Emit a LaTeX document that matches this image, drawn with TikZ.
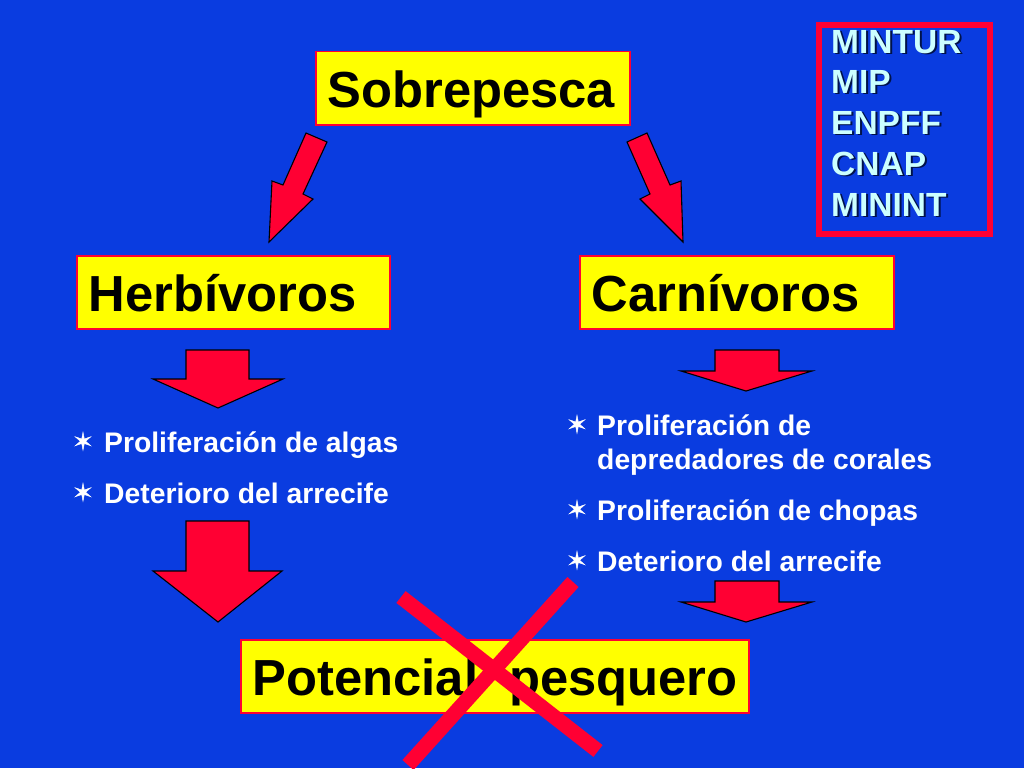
\documentclass[tikz,border=0pt]{standalone}
\usepackage{fontspec}
\setmainfont{Liberation Sans}
\newfontfamily\starfont[FakeBold=1.8]{DejaVu Sans}
\usepackage{xcolor}
\definecolor{bgblue}{HTML}{0A3CE0}
\definecolor{boxyellow}{HTML}{FFFF00}
\definecolor{arrowred}{HTML}{FF0033}
\definecolor{paleblue}{HTML}{CCFFFF}
\definecolor{shadowblue}{HTML}{00124A}

\tikzset{
  titlebox/.style={draw=arrowred,line width=1.5pt,fill=boxyellow,anchor=north west,inner ysep=0pt,inner xsep=12pt,
    text height=56pt,text depth=17pt,font=\bfseries\fontsize{50.7}{56}\selectfont,align=left},
  blockarrow/.style={draw=black,line width=1.1pt,fill=arrowred,line join=miter},
  crossbar/.style={draw=arrowred,line width=15pt},
  itemtext/.style={anchor=base west,inner sep=0pt,text=white,font=\bfseries\fontsize{28.3}{34}\selectfont,align=left},
  itemstar/.style={anchor=base,inner sep=0pt,text=white,font=\starfont\fontsize{24}{24}\selectfont},
  agencytext/.style={anchor=base west,inner sep=0pt,text=paleblue,font=\bfseries\fontsize{33.5}{40}\selectfont},
  agencyshadow/.style={anchor=base west,inner sep=0pt,text=shadowblue,font=\bfseries\fontsize{33.5}{40}\selectfont}
}

\newcommand{\agency}[3]{%
  \node[agencyshadow] (#1s) at (833,#2+1.5) {#3};
  \node[agencytext] (#1) at (831,#2) {#3};
}

\begin{document}
\begin{tikzpicture}[x=1pt,y=-1pt]
\fill[bgblue] (0,0) rectangle (1024,768);
\useasboundingbox (0,0) rectangle (1024,768);

% agencies
\draw[arrowred,line width=6pt] (819,25) rectangle (990,234);
\agency{mintur}{53}{MINTUR}
\agency{mip}{93}{MIP}
\agency{enpff}{134}{ENPFF}
\agency{cnap}{175}{CNAP}
\agency{minint}{216}{MININT}

% boxes
\node[titlebox,text width=290pt] (sobrepesca) at (315,51) {Sobrepesca};
\node[titlebox,text width=289pt] (herbivoros) at (76,255) {Herbívoros};
\node[titlebox,text width=290pt] (carnivoros) at (579,255) {Carnívoros};
\node[titlebox,text width=484pt] (potencial) at (240,639) {\mbox{Potencial\hspace{31pt}pesquero}};

% arrows
\draw[blockarrow] (306,133) -- (327,142) -- (303,194) -- (313,199) -- (269,242) -- (272,181) -- (283,185) -- cycle;
\draw[blockarrow] (627,142) -- (647,133) -- (670,185) -- (681,181) -- (683,242) -- (640,199) -- (650,194) -- cycle;
\draw[blockarrow] (186,350) -- (249,350) -- (249,379) -- (283,379) -- (218,408) -- (153,379) -- (186,379) -- cycle;
\draw[blockarrow] (715,350) -- (779,350) -- (779,371) -- (812,371) -- (746,391) -- (681,371) -- (715,371) -- cycle;
\draw[blockarrow] (186,521) -- (249,521) -- (249,571) -- (282,571) -- (218,622) -- (153,571) -- (186,571) -- cycle;
\draw[blockarrow] (715,581) -- (779,581) -- (779,602) -- (812,602) -- (746,622) -- (681,602) -- (715,602) -- cycle;

% left list
\node[itemstar] (staralgas) at (83,450) {✶};
\node[itemtext] (algas) at (104,452) {Proliferación de algas};
\node[itemstar] (stararrecifeh) at (83,501) {✶};
\node[itemtext] (arrecifeh) at (104,503) {Deterioro del arrecife};

% right list
\node[itemstar] (starcorales) at (577,433) {✶};
\node[itemtext] (corales) at (597,469) {Proliferación de\\depredadores de corales};
\node[itemstar] (starchopas) at (577,518) {✶};
\node[itemtext] (chopas) at (597,520) {Proliferación de chopas};
\node[itemstar] (stararrecifec) at (577,569) {✶};
\node[itemtext] (arrecifec) at (597,571) {Deterioro del arrecife};

% cross
\draw[crossbar] (401,597) -- (598,751);
\draw[crossbar] (573,582) -- (408,765);
\end{tikzpicture}
\end{document}
